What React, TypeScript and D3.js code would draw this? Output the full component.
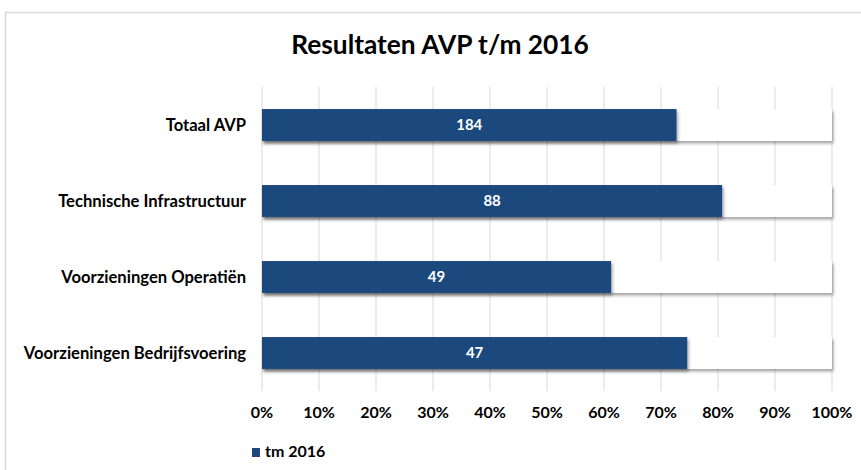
import React from "react";
import * as d3 from "d3";

const categories = [
  "Totaal AVP",
  "Technische Infrastructuur",
  "Voorzieningen Operatiën",
  "Voorzieningen Bedrijfsvoering",
];
const doneValues = [184, 88, 49, 47];
const restValues = [69, 21, 31, 16];
const tickValues = [0, 0.1, 0.2, 0.3, 0.4, 0.5, 0.6, 0.7, 0.8, 0.9, 1];
const legendLabel = "tm 2016";
const title = "Resultaten AVP t/m 2016";

const W = 861;
const H = 470;
const FONT = "Lato, 'Open Sans', sans-serif";
const BLUE = "#1F497D";

export default function App() {
  const x = d3.scaleLinear().domain([0, 1]).range([262, 832]);
  const y = d3.scaleBand().domain(categories).range([87, 391]).paddingInner(0.58).paddingOuter(0.29);
  const fmt = d3.format(".0%");

  const rows = categories.map((c, i) => {
    const total = doneValues[i] + restValues[i];
    return { c, done: doneValues[i], share: doneValues[i] / total };
  });

  return (
    <svg
      width={W}
      height={H}
      style={{ position: "absolute", left: 0, top: 0, background: "#fff" }}
      fontFamily={FONT}
    >
      <defs>
        <filter id="sh" x="-5%" y="-30%" width="115%" height="180%">
          <feDropShadow dx="1.5" dy="2.5" stdDeviation="1.5" floodColor="#000" floodOpacity="0.35" />
        </filter>
      </defs>
      <rect x={5.5} y={12.5} width={W + 10} height={H + 10} fill="#fff" stroke="#d9d9d9" strokeWidth={1.5} />
      <text x={440} y={54} textAnchor="middle" fontSize={26.3} fontWeight="bold" fill="#000">
        {title}
      </text>
      {tickValues.map((t) => (
        <line key={t} x1={x(t)} x2={x(t)} y1={87} y2={391} stroke="#d9d9d9" strokeWidth={1} />
      ))}
      {rows.map((r) => {
        const y0 = y(r.c)!;
        const bh = y.bandwidth();
        return (
          <g key={r.c}>
            <rect x={x(0)} y={y0} width={x(1) - x(0)} height={bh} fill="#fff" filter="url(#sh)" />
            <rect x={x(0)} y={y0} width={x(r.share) - x(0)} height={bh} fill={BLUE} filter="url(#sh)" />
            <text
              x={(x(0) + x(r.share)) / 2}
              y={y0 + bh / 2}
              dy="0.36em"
              textAnchor="middle"
              fontSize={15}
              fontWeight="bold"
              fill="#fff"
            >
              {r.done}
            </text>
            <text x={246} y={y0 + bh / 2 + 6} textAnchor="end" fontSize={16.6} fontWeight="bold" fill="#000">
              {r.c}
            </text>
          </g>
        );
      })}
      {tickValues.map((t) => (
        <text key={"l" + t} x={x(t)} y={418} textAnchor="middle" fontSize={16} fontWeight="bold" fill="#000">
          {fmt(t)}
        </text>
      ))}
      <rect x={252} y={448} width={8} height={9} fill={BLUE} />
      <text x={265} y={457} fontSize={16} fontWeight="bold" fill="#000">
        {legendLabel}
      </text>
    </svg>
  );
}
